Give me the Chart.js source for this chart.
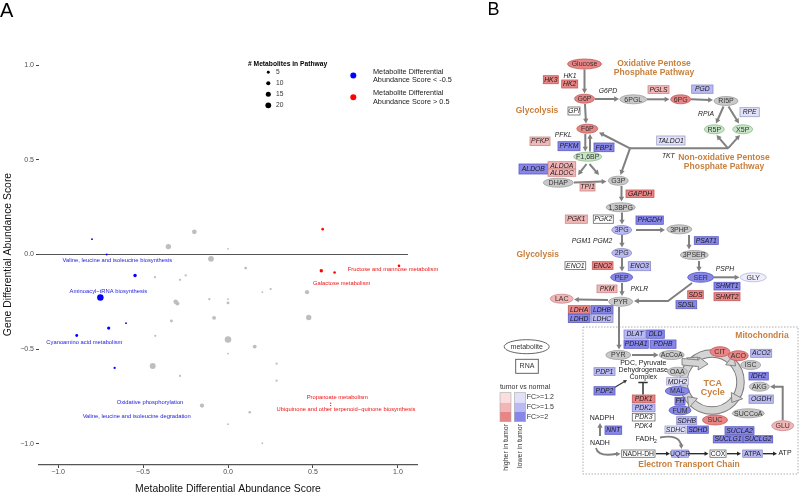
<!DOCTYPE html>
<html>
<head>
<meta charset="utf-8">
<script src="https://cdn.jsdelivr.net/npm/chart.js@4.4.1/dist/chart.umd.min.js"></script>
<style>
  body { margin: 0; background: #fff; }
  #wrap { position: relative; width: 800px; height: 494px; }
  canvas { position: absolute; left: 0; top: 0; }
</style>
</head>
<body>
<div id="wrap">
  <canvas id="chartA" width="800" height="494"></canvas>
  <canvas id="chartB" width="800" height="494"></canvas>
</div>
<script>
const FONT = '"Liberation Sans", Arial, Helvetica, sans-serif';

// ===== PANEL A : scatter metabolite score vs gene score =====
const tickValues = [-1, -0.5, 0, 0.5, 1];

// score metabolite < -0.5 (bleu)
const blueX = [-0.800, -0.714, -0.547, -0.751, -0.600, -0.702, -0.890, -0.667];
const blueY = [ 0.081,  0.000, -0.111, -0.227, -0.363, -0.389, -0.428, -0.600];
const blueN = [2, 2, 7, 25, 2, 6, 5, 3];

// score metabolite > 0.5 (rouge)
const redX = [0.557, 0.549, 0.627, 1.006, 0.604, 0.604];
const redY = [0.134, -0.086, -0.095, -0.060, -0.786, -0.799];
const redN = [4, 7, 4, 4, 1, 1];

// les autres pathways (gris)
const greyX = [-0.198, -0.351, 0.000, -0.100, -0.430, -0.249, -0.282, 0.104, -0.308, -0.298,
               -0.110, 0.000, 0.000, 0.202, 0.251, 0.465, -0.082, -0.333, 0.475, -0.428,
               0.000, 0.157, 0.000, -0.443, 0.286, -0.282, 0.286, -0.153, 0.128, 0.000, 0.202];
const greyY = [0.120, 0.042, 0.030, -0.023, -0.120, -0.111, -0.134, -0.072, -0.250, -0.259,
               -0.236, -0.236, -0.256, -0.199, -0.183, -0.199, -0.335, -0.352, -0.333, -0.430,
               -0.450, -0.487, -0.524, -0.589, -0.577, -0.642, -0.667, -0.799, -0.834, -0.897, -0.998];
const greyN = [13, 17, 2, 20, 3, 3, 3, 5, 12, 10, 3, 2, 5, 2, 3, 11, 9, 5, 17, 3,
               25, 9, 2, 21, 3, 3, 3, 11, 4, 2, 2];

// noms des pathways etiquetes + ou l'etiquette tombe (coord. des donnees)
const labelText = ['Valine, leucine and isoleucine biosynthesis', 'Aminoacyl\u2212tRNA biosynthesis',
  'Cyanoamino acid metabolism', 'Oxidative phosphorylation', 'Valine, leucine and isoleucine degradation',
  'Fructose and mannose metabolism', 'Galactose metabolism', 'Propanoate metabolism',
  'Ubiquinone and other terpenoid\u2212quinone biosynthesis'];
const labelGroup = ['blue', 'blue', 'blue', 'blue', 'blue', 'red', 'red', 'red', 'red'];
const labelX = [-0.651, -0.704, -0.845, -0.459, -0.537, 0.971, 0.669, 0.643, 0.694];
const labelY = [-0.032, -0.196, -0.463, -0.781, -0.857, -0.081, -0.153, -0.753, -0.818];

const sizeLegend = [5, 10, 15, 20];
const colorLegend = [
  { color: '#0000ff', lines: ['Metabolite Differential', 'Abundance Score < -0.5'] },
  { color: '#ff0000', lines: ['Metabolite Differential', 'Abundance Score > 0.5'] }
];

const groupColor = { blue: '#0000ff', red: '#ff0000', grey: '#bebebe' };
const radiusOf = n => 0.65 * Math.sqrt(n);
const fmt = v => (v < 0 ? '\u2212' : '') + Math.abs(v).toFixed(1);
const toPts = (xs, ys) => xs.map((x, i) => ({ x: x, y: ys[i] }));

const panelA = {
  id: 'panelA',
  beforeDatasetsDraw(chart) {
    // ligne horizontale a y = 0
    const { ctx, chartArea, scales } = chart;
    const y0 = scales.y.getPixelForValue(0);
    ctx.save();
    ctx.strokeStyle = '#555';
    ctx.lineWidth = 1.1;
    ctx.beginPath();
    ctx.moveTo(chartArea.left, y0);
    ctx.lineTo(chartArea.right - 9, y0);
    ctx.stroke();
    ctx.restore();
  },
  afterDraw(chart) {
    const { ctx, scales } = chart;
    ctx.save();
    // etiquettes des pathways
    ctx.font = '5.8px ' + FONT;
    ctx.textAlign = 'center';
    ctx.textBaseline = 'middle';
    labelText.forEach((t, i) => {
      ctx.fillStyle = labelGroup[i] === 'blue' ? '#1a1adf' : '#ee1111';
      ctx.fillText(t, scales.x.getPixelForValue(labelX[i]), scales.y.getPixelForValue(labelY[i]));
    });

    // legende taille
    ctx.fillStyle = '#000';
    ctx.textAlign = 'left';
    ctx.font = 'bold 6.7px ' + FONT;
    ctx.fillText('# Metabolites in Pathway', 248, 64);
    ctx.font = '6.7px ' + FONT;
    sizeLegend.forEach((n, i) => {
      const y = 72.3 + i * 11;
      ctx.fillStyle = '#000';
      ctx.beginPath();
      ctx.arc(268.3, y, radiusOf(n), 0, Math.PI * 2);
      ctx.fill();
      ctx.fillStyle = '#333';
      ctx.fillText(String(n), 276, y);
    });

    // legende couleur
    ctx.font = '7.3px ' + FONT;
    colorLegend.forEach((c, i) => {
      const y = 75.5 + i * 21.7;
      ctx.fillStyle = c.color;
      ctx.beginPath();
      ctx.arc(353.3, y, 3, 0, Math.PI * 2);
      ctx.fill();
      ctx.fillStyle = '#222';
      ctx.fillText(c.lines[0], 373, y - 3.8);
      ctx.fillText(c.lines[1], 373, y + 4.6);
    });

    // lettre du panneau
    ctx.fillStyle = '#000';
    ctx.font = '20px ' + FONT;
    ctx.textBaseline = 'top';
    ctx.fillText('A', 0, 1);
    ctx.restore();
  }
};

const chartA = new Chart(document.getElementById('chartA'), {
  type: 'scatter',
  data: {
    datasets: [
      { label: 'blue', data: toPts(blueX, blueY), backgroundColor: groupColor.blue,
        pointRadius: c => radiusOf(blueN[c.dataIndex]), pointBorderWidth: 0 },
      { label: 'red', data: toPts(redX, redY), backgroundColor: groupColor.red,
        pointRadius: c => radiusOf(redN[c.dataIndex]), pointBorderWidth: 0 },
      { label: 'grey', data: toPts(greyX, greyY), backgroundColor: groupColor.grey,
        pointRadius: c => radiusOf(greyN[c.dataIndex]), pointBorderWidth: 0 }
    ]
  },
  options: {
    responsive: false,
    animation: false,
    events: [],
    layout: { padding: { left: 0, top: 44, right: 383, bottom: 0 } },
    plugins: { legend: { display: false }, tooltip: { enabled: false } },
    scales: {
      x: {
        type: 'linear', min: -1.112, max: 1.112,
        afterBuildTicks: s => { s.ticks = tickValues.map(v => ({ value: v })); },
        afterFit: s => { s.height = 29; },
        grid: { display: true, drawOnChartArea: false, drawTicks: true, tickLength: 3, color: '#444' },
        border: { display: true, color: '#555', width: 1.2 },
        ticks: { font: { size: 7, family: FONT }, color: '#4d4d4d', padding: 0, maxRotation: 0, callback: fmt },
        title: { display: true, text: 'Metabolite Differential Abundance Score', color: '#111',
                 font: { size: 10.4, family: FONT, lineHeight: 1 }, padding: { top: 0, bottom: 0 } }
      },
      y: {
        type: 'linear', min: -1.113, max: 1.113,
        afterBuildTicks: s => { s.ticks = tickValues.map(v => ({ value: v })); },
        afterFit: s => { s.width = 39; },
        grid: { display: true, drawOnChartArea: false, drawTicks: true, tickLength: 3, color: '#444' },
        border: { display: false },
        ticks: { font: { size: 7, family: FONT }, color: '#4d4d4d', padding: 2, callback: fmt },
        title: { display: true, text: 'Gene Differential Abundance Score', color: '#111',
                 font: { size: 10.4, family: FONT, lineHeight: 1 }, padding: { top: 3, bottom: 0 } }
      }
    }
  },
  plugins: [panelA]
});

// ===== PANEL B : carte des voies (glycolyse, PPP, TCA) =====
// niveaux: R3/R2/R1 plus haut dans tumeur, B3/B2/B1 plus bas, W pas de diff, G pas mesure, GR vert, B0 tres pale
const metNames = ['Glucose', 'G6P', 'F6P', 'F1,6BP', 'DHAP', 'G3P', '1,3BPG', '3PG', '2PG', 'PEP', 'PYR', 'LAC',
  '3PHP', '3PSER', 'SER', 'GLY', '6PGL', '6PG', 'RI5P', 'R5P', 'X5P',
  'PYR', 'AcCoA', 'OAA', 'MAL', 'FUM', 'SUC', 'SUCCoA', 'CIT', 'ACO', 'ISC', 'AKG', 'GLU'];
const metLevel = ['R3', 'R3', 'R3', 'GR', 'G', 'G', 'G', 'B2', 'B2', 'B3', 'G', 'R2',
  'G', 'G', 'B3', 'B0', 'G', 'R3', 'G', 'GR', 'GR',
  'G', 'G', 'G', 'B3', 'B3', 'R3', 'G', 'R3', 'R3', 'G', 'G', 'R2'];

const geneNames = ['HK3', 'HK2', 'HK1', 'G6PD', 'GPI', 'PFKL', 'PFKP', 'PFKM', 'FBP1', 'ALDOB', 'ALDOA', 'ALDOC',
  'TPI1', 'GAPDH', 'PGK1', 'PGK2', 'PHGDH', 'PGM1 PGM2', 'ENO1', 'ENO2', 'ENO3', 'PKM', 'PKLR',
  'LDHA', 'LDHB', 'LDHD', 'LDHC', 'PSAT1', 'PSPH', 'SHMT1', 'SHMT2', 'SDS', 'SDSL',
  'PGLS', 'PGD', 'RPIA', 'RPE', 'TALDO1', 'TKT',
  'DLAT', 'DLD', 'PDHA1', 'PDHB', 'PDP1', 'PDP2', 'PDK1', 'PDK2', 'PDK3', 'PDK4',
  'MDH2', 'FH', 'SDHB', 'SDHC', 'SDHD', 'ACO2', 'IDH2', 'OGDH', 'SUCLA2', 'SUCLG1', 'SUCLG2',
  'NNT', 'NADH-DH', 'UQCR', 'COX', 'ATPA'];
const geneLevel = ['R3', 'R3', 'N', 'N', 'W', 'N', 'R2', 'B3', 'B3', 'B3', 'R2', 'R2',
  'R2', 'R3', 'R2', 'W', 'B3', 'N', 'W', 'R3', 'B2', 'R2', 'N',
  'R3', 'B3', 'B3', 'B2', 'B3', 'N', 'B3', 'R3', 'R3', 'B3',
  'R2', 'B2', 'N', 'B1', 'B1', 'N',
  'B2', 'B3', 'B3', 'B3', 'B2', 'B3', 'R3', 'B2', 'W', 'N',
  'B1', 'B3', 'B2', 'B1', 'B3', 'B2', 'B3', 'B2', 'B3', 'B3', 'B3',
  'B3', 'W', 'B2', 'W', 'B2'];
const uprightGenes = ['NADH-DH', 'UQCR', 'COX', 'ATPA'];

// --- mise en page du schema (pixels de la page) ---
// metabolites: centre x, centre y, largeur, hauteur
const metLayout = [[584.5, 64, 34, 10], [584.5, 98.7, 20, 9], [587.3, 128.7, 21, 9], [587.7, 156.7, 28, 9],
  [558.3, 182.7, 30, 9], [618.3, 180.7, 20, 9], [620.7, 207.3, 29, 9], [621.7, 230, 20, 9], [621.7, 253, 20, 9],
  [621.7, 277.3, 22, 9], [620.7, 301.7, 24, 9], [561.7, 298.7, 23, 9], [679.3, 229.3, 25, 9], [694.3, 255, 28, 9],
  [700.7, 277.3, 26, 10], [753.3, 277.3, 26, 9], [633.3, 99.3, 27, 9], [680.7, 99.3, 20, 9], [726, 101, 24, 9],
  [714.3, 129.3, 20, 9], [742.7, 129.3, 20, 9], [618.3, 355, 25, 9], [671.7, 355, 25, 9], [677.3, 371.7, 20, 9],
  [677.3, 391, 24, 9], [680, 410.3, 22, 9], [715, 420, 25, 10], [748.3, 413.3, 32, 9], [720, 351.7, 20, 10],
  [738.3, 355.7, 20, 10], [750.7, 365, 20, 9], [759.3, 386.7, 20, 9], [782.7, 425.7, 22, 10]];
// genes: gauche, haut, largeur, hauteur (ou centre x, y si pas de boite)
const geneLayout = [[543.3, 75.7, 15, 8], [561.7, 80, 16, 8], [570, 75.7], [608, 91], [568, 107, 12, 8],
  [563.3, 135], [530, 137, 20, 8.5], [558, 141.7, 22, 9], [594, 143, 20, 8.7], [519, 164, 28.7, 10],
  [548, 161.7, 27.7, 7.3], [548, 169, 27.7, 7.3], [580, 183, 15, 8], [626, 190, 28, 7.5], [565.3, 215, 22, 8.3],
  [593.3, 215, 20, 8.3], [636, 216, 27.3, 8.3], [592, 241], [565, 261.7, 20.7, 7.7], [592.3, 261.7, 20.7, 7.7],
  [628.3, 261.7, 22.3, 9], [597, 285, 20, 7.7], [639.3, 289.3],
  [568.3, 305.7, 21.7, 8], [591, 305.7, 22, 8], [568.3, 314.3, 21.7, 8.3], [591, 314.3, 22, 8.3],
  [694.3, 236.7, 24, 7.7], [725, 269.3], [714, 282.3, 26, 7.7], [714, 292.7, 26, 8], [687.7, 290.7, 15.6, 8],
  [676, 300.7, 20.7, 8], [648, 85.7, 21, 7.7], [691.7, 85, 21.3, 8.3], [706, 114.3], [740, 107.7, 19.3, 9],
  [656.7, 136, 28.3, 9], [668.3, 155.7],
  [624, 330, 21.7, 8.3], [646.7, 330, 17.6, 8.3], [624, 340, 24.3, 8.3], [650, 340, 26, 8.3],
  [594, 367.7, 21, 7.7], [594, 386.7, 21, 8.3], [632.3, 395, 22.7, 7.7], [632.3, 404, 22.7, 7.7],
  [632.3, 413.3, 22.7, 7.7], [643.3, 426],
  [666.7, 377.7, 21.6, 7.3], [675, 397.3, 10, 7.7], [676.7, 416.7, 20, 7.7], [665, 426, 21, 7.3],
  [687.3, 426, 21, 7.3], [750.7, 349.3, 21, 8], [749, 372.3, 19.3, 7.7], [749, 395, 24.3, 8.3],
  [725, 426.7, 29, 7.7], [713.3, 435.7, 29.4, 7.2], [743.3, 435.7, 29.4, 7.2],
  [605, 426, 16.7, 8.3], [621.7, 450, 33.3, 7.3], [671.7, 450, 16.7, 7.3], [710, 450, 16, 7.3], [742.7, 450, 19.6, 7.3]];

// fleches grises (derniere extremite = pointe)
const arrows = [
  [[584.5, 69.5], [584.5, 93.5]], [[585, 104], [586, 123.5]], [[585.3, 134], [585.3, 151.5]], [[590, 151.5], [590, 134]],
  [[595, 99], [619, 99]], [[647, 99.3], [669.5, 99.3]], [[691, 99.3], [713, 100]],
  [[723.5, 106.5], [716, 123.5]], [[728.5, 106.5], [739, 123.5]],
  [[630, 148.3], [599, 132.5]], [[728, 148.3], [716.5, 135]], [[728, 148.3], [740, 135]], [[630, 148.3], [620.5, 175]],
  [[586.5, 164], [578, 175]], [[589.5, 164], [599, 175]], [[574, 182.5], [606.5, 181.5]],
  [[621.5, 186], [621.5, 201.5]], [[622, 212.5], [622, 224.5]], [[636, 230], [665, 230]],
  [[689, 235], [689, 249.5]], [[699, 261], [699, 271.5]], [[714, 277.3], [739.5, 277.3]],
  [[622, 235], [622, 247.5]], [[622, 258], [622, 271.5]], [[622, 283], [622, 296]], [[608, 300], [574, 299.5]],
  [[692, 283], [668, 301], [634, 301]], [[619, 307], [619, 349.5]], [[632, 355], [658.5, 355]],
  [[782.7, 420.5], [782.7, 386.7], [770, 386.7]], [[600, 436], [600, 423]]
];
const plainLines = [[[630, 148.3], [728, 148.3]]];
const etcArrows = [[[656, 453.7], [670, 453.7]], [[689, 453.7], [708.5, 453.7]], [[727, 453.7], [741, 453.7]], [[763, 453.7], [777, 453.7]]];

const plainTexts = [['NADPH', 602, 418.3], ['NADH', 600, 442.7], ['ATP', 785, 453.3],
  ['PDC, Pyruvate', 643.3, 363.3], ['Dehydrogenase', 643.3, 370], ['Complex', 643.3, 376.7]];
const titles = [['Oxidative Pentose', 654, 63.3], ['Phosphate Pathway', 654, 72.3], ['Glycolysis', 537, 111],
  ['Non-oxidative Pentose', 724, 158], ['Phosphate Pathway', 724, 167], ['Glycolysis', 537.7, 255],
  ['Mitochondria', 762, 336], ['TCA', 712.7, 383.3], ['Cycle', 712.7, 392.3], ['Electron Transport Chain', 689, 465]];

const fill = { R3: '#e98585', R2: '#f3b6b6', R1: '#fbdede', W: '#ffffff', B1: '#e1e1fa', B2: '#b9b9f3',
  B3: '#8787ea', G: '#c9c9c9', GR: '#c8e5c8', B0: '#eeeefc' };
const edge = { R3: '#c25a5a', R2: '#cc8888', R1: '#d0a0a0', W: '#777', B1: '#9d9dc8', B2: '#8a8ad0',
  B3: '#5a5ac0', G: '#9e9e9e', GR: '#8fba8f', B0: '#b5b5dd' };
const ORANGE = '#c9803d';

function drawArrow(ctx, pts, color, lw, head) {
  const n = pts.length;
  const [x1, y1] = pts[n - 2], [x2, y2] = pts[n - 1];
  const a = Math.atan2(y2 - y1, x2 - x1);
  ctx.strokeStyle = color; ctx.fillStyle = color; ctx.lineWidth = lw;
  ctx.beginPath();
  ctx.moveTo(pts[0][0], pts[0][1]);
  for (let i = 1; i < n - 1; i++) ctx.lineTo(pts[i][0], pts[i][1]);
  ctx.lineTo(x2 - head * 0.7 * Math.cos(a), y2 - head * 0.7 * Math.sin(a));
  ctx.stroke();
  ctx.beginPath();
  ctx.moveTo(x2, y2);
  ctx.lineTo(x2 - head * Math.cos(a - 0.5), y2 - head * Math.sin(a - 0.5));
  ctx.lineTo(x2 - head * Math.cos(a + 0.5), y2 - head * Math.sin(a + 0.5));
  ctx.closePath();
  ctx.fill();
}

const panelB = {
  id: 'panelB',
  afterDatasetsDraw(chart) {
    const { ctx, scales } = chart;
    const P = p => [scales.x.getPixelForValue(p[0]), scales.y.getPixelForValue(p[1])];
    ctx.save();

    // boite mitochondrie
    ctx.strokeStyle = '#9a9a9a'; ctx.lineWidth = 0.8; ctx.setLineDash([1.5, 1.5]);
    const [mx0, my0] = P([583, 327]), [mx1, my1] = P([798, 474]);
    ctx.strokeRect(mx0, my0, mx1 - mx0, my1 - my0);
    ctx.setLineDash([]);

    // cycle TCA (anneau gris avec fleches)
    const [cx, cy] = P([712, 382]);
    ctx.lineWidth = 8.5; ctx.strokeStyle = '#7a7a7a';
    ctx.beginPath(); ctx.arc(cx, cy, 28.5, 0, Math.PI * 2); ctx.stroke();
    ctx.lineWidth = 6.5; ctx.strokeStyle = '#d4d4d4';
    ctx.beginPath(); ctx.arc(cx, cy, 28.5, 0, Math.PI * 2); ctx.stroke();
    [-0.9, 0.5, 2.3, 3.9].forEach(a => {
      const tip = a + 0.3;
      ctx.beginPath();
      ctx.moveTo(cx + 35 * Math.cos(a), cy + 35 * Math.sin(a));
      ctx.lineTo(cx + 28.5 * Math.cos(tip), cy + 28.5 * Math.sin(tip));
      ctx.lineTo(cx + 22 * Math.cos(a), cy + 22 * Math.sin(a));
      ctx.closePath();
      ctx.fillStyle = '#d4d4d4'; ctx.fill();
      ctx.strokeStyle = '#7a7a7a'; ctx.lineWidth = 0.9; ctx.stroke();
    });
    // grosse fleche AcCoA -> cycle
    const block = [[682, 358.5], [699, 360], [699, 357], [708, 364], [698, 370], [698.5, 366.5], [682, 365]].map(P);
    ctx.beginPath(); block.forEach((p, i) => i ? ctx.lineTo(p[0], p[1]) : ctx.moveTo(p[0], p[1]));
    ctx.closePath(); ctx.fillStyle = '#d4d4d4'; ctx.fill(); ctx.strokeStyle = '#7a7a7a'; ctx.lineWidth = 0.9; ctx.stroke();

    // fleches
    arrows.forEach(a => drawArrow(ctx, a.map(P), '#808080', 2, 5.5));
    plainLines.forEach(l => {
      ctx.strokeStyle = '#808080'; ctx.lineWidth = 2; ctx.beginPath();
      l.map(P).forEach((p, i) => i ? ctx.lineTo(p[0], p[1]) : ctx.moveTo(p[0], p[1])); ctx.stroke();
    });
    etcArrows.forEach(a => drawArrow(ctx, a.map(P), '#222', 1.3, 4.5));
    drawArrow(ctx, [[612, 389], [627, 380]].map(P), '#333', 1.1, 4);
    // courbes NADH -> NADH-DH et FADH2 -> UQCR
    ctx.strokeStyle = '#808080'; ctx.lineWidth = 1.8;
    ctx.beginPath(); ctx.moveTo(...P([596, 448])); ctx.quadraticCurveTo(...P([598, 457]), ...P([616, 454])); ctx.stroke();
    drawArrow(ctx, [[614, 454.2], [620.5, 453.7]].map(P), '#808080', 1.8, 5);
    ctx.beginPath(); ctx.moveTo(...P([660, 437.5])); ctx.quadraticCurveTo(...P([679, 434]), ...P([681, 445])); ctx.stroke();
    drawArrow(ctx, [[681, 443], [681.5, 449]].map(P), '#808080', 1.8, 5);
    // inhibition PDK -> PDC
    ctx.strokeStyle = '#333'; ctx.lineWidth = 1.5;
    ctx.beginPath(); ctx.moveTo(...P([643, 394.5])); ctx.lineTo(...P([643, 382.5]));
    ctx.moveTo(...P([638.3, 382.5])); ctx.lineTo(...P([647.7, 382.5])); ctx.stroke();

    // metabolites (ellipses) depuis le dataset 0
    ctx.textAlign = 'center'; ctx.textBaseline = 'middle';
    chart.getDatasetMeta(0).data.forEach((el, i) => {
      const lv = metLevel[i], w = metLayout[i][2], h = metLayout[i][3];
      ctx.beginPath(); ctx.ellipse(el.x, el.y, w / 2, h / 2, 0, 0, Math.PI * 2);
      ctx.fillStyle = fill[lv]; ctx.fill();
      ctx.strokeStyle = edge[lv]; ctx.lineWidth = 0.8; ctx.stroke();
      ctx.fillStyle = '#333'; ctx.font = '7px ' + FONT;
      ctx.fillText(metNames[i], el.x, el.y + 0.3);
    });

    // genes (boites) depuis le dataset 1
    chart.getDatasetMeta(1).data.forEach((el, i) => {
      const lv = geneLevel[i], name = geneNames[i];
      ctx.font = (uprightGenes.includes(name) ? '' : 'italic ') + '6.8px ' + FONT;
      ctx.fillStyle = '#222';
      if (lv === 'N') { ctx.fillText(name, el.x, el.y); return; }
      const w = geneLayout[i][2], h = geneLayout[i][3];
      ctx.fillStyle = fill[lv]; ctx.fillRect(el.x, el.y, w, h);
      ctx.strokeStyle = lv[0] === 'W' ? '#666' : edge[lv]; ctx.lineWidth = 0.8; ctx.strokeRect(el.x, el.y, w, h);
      ctx.fillStyle = '#1a1a1a';
      ctx.fillText(name, el.x + w / 2, el.y + h / 2 + 0.3);
    });

    // textes simples
    ctx.font = '7px ' + FONT; ctx.fillStyle = '#222';
    plainTexts.forEach(t => { const p = P([t[1], t[2]]); ctx.fillText(t[0], p[0], p[1]); });
    const f = P([645, 439.3]);
    ctx.fillText('FADH', f[0], f[1]);
    ctx.font = '5px ' + FONT; ctx.fillText('2', f[0] + 10.5, f[1] + 2.5);

    // titres oranges
    ctx.fillStyle = ORANGE;
    titles.forEach(t => {
      ctx.font = 'bold ' + (t[0] === 'TCA' || t[0] === 'Cycle' ? 9 : 8.5) + 'px ' + FONT;
      const p = P([t[1], t[2]]); ctx.fillText(t[0], p[0], p[1]);
    });

    // legende du panneau B
    ctx.strokeStyle = '#555'; ctx.lineWidth = 0.9; ctx.fillStyle = '#fff';
    ctx.beginPath(); ctx.ellipse(526.7, 346.7, 22.5, 7, 0, 0, Math.PI * 2); ctx.fill(); ctx.stroke();
    ctx.strokeRect(515.7, 359.3, 22.6, 14);
    ctx.fillStyle = '#333'; ctx.font = '7px ' + FONT;
    ctx.fillText('metabolite', 526.7, 347);
    ctx.fillText('RNA', 527, 366.5);
    ctx.fillText('tumor vs normal', 525, 386.7);
    const rows = [[392.7, 10], [402.7, 9], [411.7, 10]];
    const reds = ['R1', 'R2', 'R3'], blues = ['B1', 'B2', 'B3'];
    rows.forEach((r, i) => {
      ctx.fillStyle = fill[reds[i]]; ctx.fillRect(500, r[0], 11, r[1]);
      ctx.fillStyle = fill[blues[i]]; ctx.fillRect(514.3, r[0], 11.4, r[1]);
    });
    ctx.strokeStyle = '#aaa'; ctx.lineWidth = 0.6;
    ctx.strokeRect(500, 392.7, 11, 29); ctx.strokeRect(514.3, 392.7, 11.4, 29);
    ctx.fillStyle = '#333'; ctx.textAlign = 'left';
    ['FC>=1.2', 'FC>=1.5', 'FC>=2'].forEach((t, i) => ctx.fillText(t, 526.7, 397.5 + i * 9.7));
    ['higher in tumor', 'lower in tumor'].forEach((t, i) => {
      ctx.save(); ctx.translate(506.3 + i * 13.6, 424); ctx.rotate(-Math.PI / 2);
      ctx.textAlign = 'right'; ctx.fillText(t, 0, 0); ctx.restore();
    });

    // lettre B
    ctx.fillStyle = '#000'; ctx.font = '18px ' + FONT; ctx.textAlign = 'center'; ctx.textBaseline = 'top';
    ctx.fillText('B', 493.5, 1.5);
    ctx.restore();
  }
};

new Chart(document.getElementById('chartB'), {
  type: 'scatter',
  data: {
    datasets: [
      { label: 'metabolites', data: metLayout.map(m => ({ x: m[0], y: m[1] })), pointRadius: 0 },
      { label: 'genes', data: geneLayout.map(g => ({ x: g[0], y: g[1] })), pointRadius: 0 }
    ]
  },
  options: {
    responsive: false,
    animation: false,
    events: [],
    layout: { padding: 0 },
    plugins: { legend: { display: false }, tooltip: { enabled: false } },
    scales: {
      x: { type: 'linear', min: 0, max: 800, display: false },
      y: { type: 'linear', min: 0, max: 494, reverse: true, display: false }
    }
  },
  plugins: [panelB]
});
</script>
</body>
</html>
